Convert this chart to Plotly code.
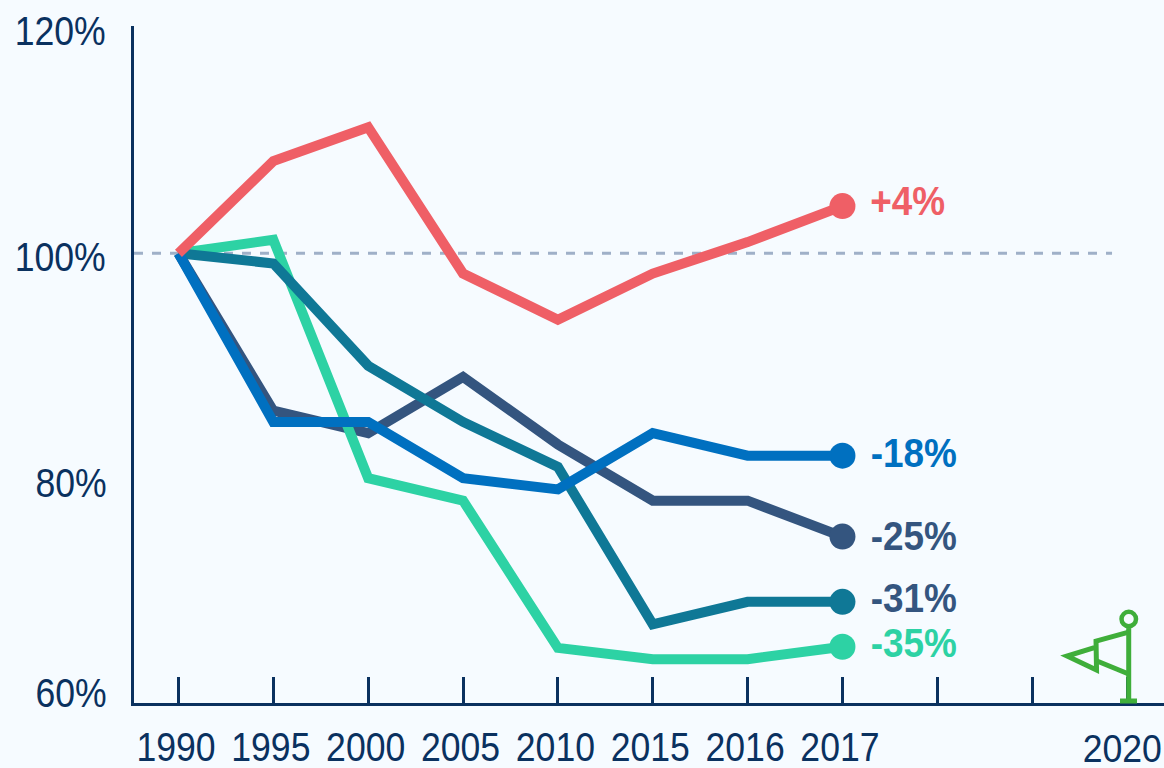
import plotly.graph_objects as go

categories = ["1990", "1995", "2000", "2005", "2010", "2015", "2016", "2017", "", "", "2020"]
red_values = [100, 108.2, 111.2, 98.2, 94.1, 98.2, 101, 104.2]
green_values = [100, 101.2, 80, 78, 64.9, 63.9, 63.9, 65]
teal_values = [100, 99.1, 90, 85, 81, 67, 69, 69]
navy_values = [100, 86, 84, 89, 83, 78, 78, 74.8]
blue_values = [100, 85, 85, 80, 79, 84, 82, 82]
end_labels = {"red": "+4%", "blue": "-18%", "navy": "-25%", "teal": "-31%", "green": "-35%"}
y_ticks = [120, 100, 80, 60]
y_labels = ["120%", "100%", "80%", "60%"]

RED, GREEN, TEAL, NAVY, BLUE = "#ef5f66", "#2dd2a4", "#0f7896", "#34557f", "#0070c0"
AXIS = "#0a315f"
BG = "#f6fbff"
FONT = "Liberation Sans"
W, H = 1164, 768
L, T, B = 133.5, 25.5, 65
PW, PH = W - L, H - T - B
STEP = 94.9
X0 = 178
Y_TOP = 120.22


def px(x):
    return (x - L) / PW


def py(y):
    return 1 - (y - T) / PH


positions = list(range(len(categories)))
fig = go.Figure()

series = [
    (navy_values, NAVY),
    (green_values, GREEN),
    (teal_values, TEAL),
    (blue_values, BLUE),
    (red_values, RED),
]
for values, color in series:
    fig.add_trace(go.Scatter(
        x=positions[:len(values)], y=values, mode="lines",
        line=dict(color=color, width=10, shape="linear"),
        hoverinfo="skip", showlegend=False, cliponaxis=False,
    ))
    fig.add_trace(go.Scatter(
        x=[positions[len(values) - 1]], y=[values[-1]], mode="markers",
        marker=dict(color=color, size=26, opacity=1, line=dict(width=0)),
        hoverinfo="skip", showlegend=False, cliponaxis=False,
    ))

annotations = []
for value, text, shift in zip(y_ticks, y_labels, [-2.5, -4, -4.5, 10]):
    annotations.append(dict(
        x=px(112.5), xref="paper", y=value, yref="y", yshift=shift, text=text,
        showarrow=False, xanchor="right", yanchor="middle",
        font=dict(family=FONT, size=40, color=AXIS),
    ))
end_specs = [
    (red_values[-1], end_labels["red"], RED, 5),
    (blue_values[-1], end_labels["blue"], BLUE, 3),
    (navy_values[-1], end_labels["navy"], NAVY, 1),
    (teal_values[-1], end_labels["teal"], NAVY, 4),
    (green_values[-1], end_labels["green"], GREEN, 4),
]
for value, text, color, shift in end_specs:
    annotations.append(dict(
        x=7, xref="x", y=value, yref="y", xshift=22, yshift=shift, text=text,
        showarrow=False, xanchor="left", yanchor="middle",
        font=dict(family=FONT, size=41, color=color, weight="bold"),
    ))
# The last year sits too close to the page edge for a native tick label.
annotations.append(dict(
    x=positions[-1], xref="x", y=py(749), yref="paper", xshift=-5, text=categories[-1],
    showarrow=False, xanchor="center", yanchor="middle",
    font=dict(family=FONT, size=38, color=AXIS),
))

FLAG = "#3fae3a"
shapes = [dict(
    type="line", xref="x", yref="y", layer="below",
    x0=(L - X0) / STEP, x1=(1112 - X0) / STEP, y0=100, y1=100,
    line=dict(color="#9fb0c8", width=3, dash="dash"),
)]
flag_paths = [
    [(1128.7, 628), (1128.7, 702)],
    [(1120, 701), (1137, 701)],
    [(1128.7, 632), (1096, 641), (1096.5, 670), (1067, 656), (1096, 647)],
    [(1097, 661), (1128.7, 674)],
]
for pts in flag_paths:
    d = "M " + " L ".join(f"{px(a):.5f},{py(b):.5f}" for a, b in pts)
    shapes.append(dict(type="path", xref="paper", yref="paper", path=d,
                       line=dict(color=FLAG, width=5)))
shapes.append(dict(type="circle", xref="paper", yref="paper",
                   x0=px(1121.5), x1=px(1136), y0=py(626.2), y1=py(611.8),
                   line=dict(color=FLAG, width=4.5), fillcolor=BG))

fig.update_layout(
    width=W, height=H, autosize=False,
    margin=dict(l=L, r=0, t=T, b=B, pad=0, autoexpand=False),
    paper_bgcolor=BG, plot_bgcolor=BG,
    showlegend=False, annotations=annotations, shapes=shapes,
    xaxis=dict(
        range=[(L - X0) / STEP, (W - X0) / STEP], tickmode="array",
        tickvals=positions, ticktext=categories[:-1] + [""], ticks="inside", ticklen=26,
        tickwidth=2.5, tickcolor=AXIS, showgrid=False, zeroline=False,
        showline=True, linecolor=AXIS, linewidth=3, ticklabelstandoff=7,
        tickfont=dict(family=FONT, size=40, color=AXIS), tickangle=0,
        automargin=False,
    ),
    yaxis=dict(
        range=[60, Y_TOP], tickmode="array", tickvals=y_ticks, ticks="",
        showticklabels=False, showgrid=False, zeroline=False,
        showline=True, linecolor=AXIS, linewidth=3, automargin=False,
    ),
)

# The reference type is a condensed grotesque: narrow the installed sans glyphs to fit.
condense = f"""
document.body.style.margin='0';
document.body.style.background='{BG}';
var gd=document.querySelector('.js-plotly-plot');
gd.querySelectorAll('svg text').forEach(function(t){{
  var weight=t.style.fontWeight||'';
  var bold=weight==='700'||weight==='bold';
  var size=parseFloat(t.style.fontSize)||40;
  var ratio=bold?0.9:0.89*40/size;
  var w=t.getComputedTextLength();
  if(w>0){{t.setAttribute('textLength',w*ratio);t.setAttribute('lengthAdjust','spacingAndGlyphs');}}
  if(t.closest('.xtick')){{t.setAttribute('dx','-2.5');}}
}});
"""
fig.write_html("out.html", config={"displayModeBar": False}, post_script=condense)
